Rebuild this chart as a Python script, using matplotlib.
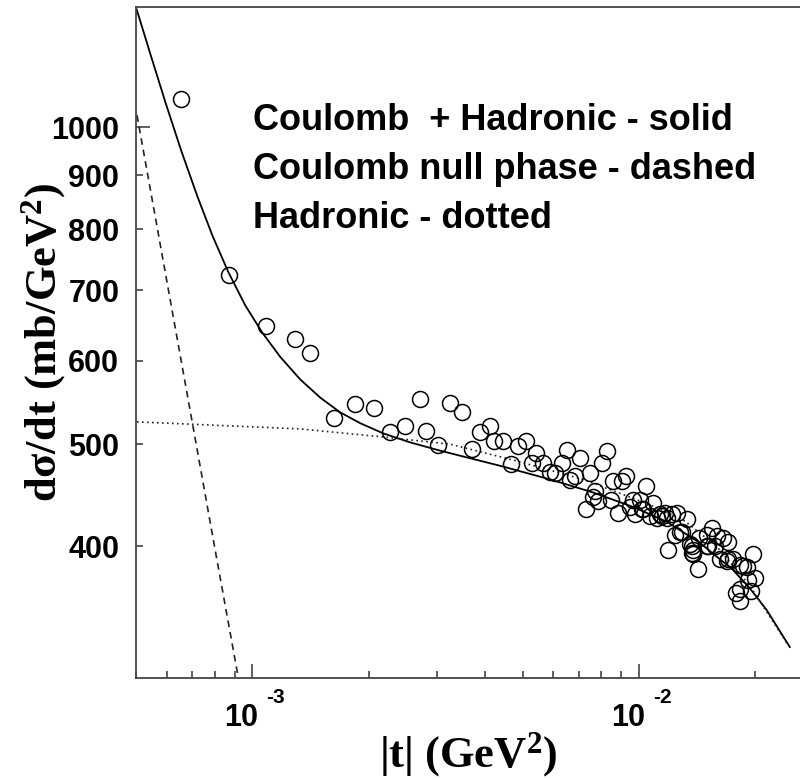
import matplotlib
matplotlib.use("Agg")
import matplotlib.pyplot as plt
from matplotlib.ticker import NullFormatter, NullLocator

plt.rcParams['mathtext.default'] = 'regular'

# ---- data ----
# measured points: |t| (GeV^2), dsigma/dt (mb/GeV^2)
t_data = [6.52e-4, 8.68e-4, 1.085e-3, 1.29e-3, 1.406e-3, 1.622e-3, 1.845e-3, 2.066e-3,
          2.273e-3, 2.485e-3, 2.717e-3, 2.817e-3, 3.03e-3, 3.25e-3, 3.48e-3, 3.70e-3,
          3.88e-3, 4.12e-3, 4.23e-3, 4.46e-3, 4.66e-3, 4.88e-3, 5.11e-3, 5.42e-3,
          5.28e-3, 5.66e-3, 5.87e-3, 6.07e-3, 6.31e-3, 6.51e-3, 7.04e-3, 6.63e-3,
          6.83e-3, 7.47e-3, 8.01e-3, 8.25e-3, 8.58e-3, 9.02e-3, 9.26e-3, 7.70e-3,
          7.59e-3, 7.85e-3, 7.29e-3, 8.45e-3, 8.84e-3, 9.67e-3, 1.006e-2, 1.043e-2,
          9.48e-3, 1.016e-2, 9.77e-3, 1.089e-2, 1.068e-2, 1.111e-2, 1.145e-2, 1.179e-2,
          1.167e-2, 1.215e-2, 1.252e-2, 1.329e-2, 1.29e-2, 1.239e-2, 1.19e-2, 1.355e-2,
          1.382e-2, 1.423e-2, 1.432e-2, 1.496e-2, 1.541e-2, 1.588e-2, 1.651e-2, 1.701e-2,
          1.511e-2, 1.572e-2, 1.619e-2, 1.701e-2, 1.752e-2, 1.824e-2, 1.974e-2, 1.898e-2,
          1.994e-2, 1.916e-2, 1.824e-2, 1.955e-2, 1.824e-2, 1.788e-2, 1.382e-2, 1.37e-2,
          1.026e-2, 1.276e-2, 1.369e-2, 1.496e-2, 1.685e-2, 1.86e-2, 1.133e-2]
y_data = [1062, 724, 648, 629, 610, 529, 546, 541,
          514, 520, 552, 515, 499, 547, 536, 495,
          514, 520, 504, 504, 479, 498, 504, 490,
          480, 480, 471, 470, 480, 494, 485, 462,
          466, 470, 480, 493, 461, 461, 466, 451,
          446, 442, 434, 443, 430, 443, 443, 456,
          436, 434, 429, 440, 427, 426, 427, 426,
          430, 429, 430, 425, 413, 410, 397, 402,
          397, 381, 407, 410, 416, 409, 407, 404,
          400, 400, 389, 389, 389, 384, 393, 382,
          373, 372, 364, 363, 355, 361, 393, 400,
          434, 413, 394, 400, 387, 383, 429]

# Coulomb + Hadronic (solid)
t_solid = [5.01e-4, 5.45e-4, 5.96e-4, 6.55e-4, 7.21e-4, 7.88e-4, 8.67e-4, 9.59e-4,
           1.061e-3, 1.181e-3, 1.33e-3, 1.499e-3, 1.688e-3, 1.901e-3, 2.18e-3, 2.56e-3,
           3.06e-3, 4.37e-3, 5.89e-3, 7.60e-3, 9.65e-3, 1.181e-2, 1.438e-2, 1.75e-2,
           1.936e-2, 2.14e-2, 2.456e-2]
y_solid = [1296, 1172, 1055, 949, 859, 789, 728, 677,
           638, 605, 576, 553.5, 536, 523.5, 512, 502,
           493, 477, 463, 450, 436, 422, 403, 380,
           365, 348, 321]

# Coulomb null phase (dashed)
t_dash = [5.03e-4, 6.0e-4, 7.0e-4, 8.0e-4, 9.2e-4, 9.3e-4]
y_dash = [1026, 716, 523, 398, 300, 293]

# Hadronic (dotted)
t_dot = [5.03e-4, 1.33e-3, 2.18e-3, 3.25e-3, 4.83e-3, 7.17e-3, 1.068e-2, 1.30e-2,
         1.588e-2, 1.936e-2, 2.41e-2]
y_dot = [525, 517, 508, 500, 482, 463, 438, 424, 400, 367, 324]

y_ticks = [400, 500, 600, 700, 800, 900, 1000]
x_decades = [1e-3, 1e-2]
x_exp_labels = ['-3', '-2']
legend_lines = ['Coulomb  + Hadronic - solid',
                'Coulomb null phase - dashed',
                'Hadronic - dotted']

# ---- figure ----
fig = plt.figure(figsize=(8, 7.8), dpi=100)
ax = fig.add_axes([0.17, 0.1308, 0.83, 0.8603])
ax.set_xscale('log')
ax.set_yscale('log')
ax.set_xlim(5.0e-4, 0.0261)
ax.set_ylim(300, 1300)

ax.plot(t_solid, y_solid, color='black', lw=1.3, solid_joinstyle='round')
ax.plot(t_dash, y_dash, color='#222222', lw=1.2, linestyle=(0, (4, 3)))
ax.plot(t_dot, y_dot, color='#222222', lw=1.2, linestyle=(0, (1, 2)))
ax.plot(t_data, y_data, linestyle='none', marker='o', markersize=11.5,
        markerfacecolor='none', markeredgecolor='black', markeredgewidth=1.1)

for side in ['left', 'bottom', 'top']:
    ax.spines[side].set_color('#444444')
    ax.spines[side].set_linewidth(1.3)
ax.spines['right'].set_visible(False)

# y ticks
ax.yaxis.set_major_locator(NullLocator())
ax.set_yticks([1000])
ax.set_yticklabels(['1000'])
ax.set_yticks([v for v in y_ticks if v != 1000], minor=True)
ax.set_yticklabels([str(v) for v in y_ticks if v != 1000], minor=True)
ax.tick_params(axis='y', which='major', direction='in', length=10, width=1.2,
               color='#444444', pad=12)
ax.tick_params(axis='y', which='minor', direction='in', length=5, width=1.2,
               color='#444444', pad=12)
for lab in ax.get_yticklabels(which='both'):
    lab.set_fontfamily('Liberation Sans')
    lab.set_fontweight('bold')
    lab.set_fontsize(22)

# x ticks
ax.tick_params(axis='x', which='major', direction='in', length=10, width=1.2,
               color='#444444', top=False)
ax.tick_params(axis='x', which='minor', direction='in', length=5, width=1.2,
               color='#444444', top=False)
ax.xaxis.set_major_formatter(NullFormatter())
ax.xaxis.set_minor_formatter(NullFormatter())
for xv, ex in zip(x_decades, x_exp_labels):
    ax.annotate('10', xy=(xv, 0), xycoords=('data', 'axes fraction'),
                xytext=(-8, -18), textcoords='offset points', ha='center', va='top',
                fontfamily='Liberation Sans', fontweight='bold', fontsize=22)
    ax.annotate(ex, xy=(xv, 0), xycoords=('data', 'axes fraction'),
                xytext=(10, -7), textcoords='offset points', ha='left', va='top',
                fontfamily='Liberation Sans', fontweight='bold', fontsize=15)

ax.set_xlabel('|t| (GeV$^2$)', fontfamily='Liberation Serif', fontweight='bold',
              fontsize=32, labelpad=34)
ax.set_ylabel('d\u03c3/dt (mb/GeV$^2$)', fontfamily='Liberation Serif',
              fontweight='bold', fontsize=32)
ax.yaxis.set_label_coords(-0.102, 0.5)

for i, line in enumerate(legend_lines):
    ax.text(0.176, 0.817 - i * 0.073, line, transform=ax.transAxes,
            ha='left', va='baseline', fontfamily='Liberation Sans',
            fontweight='bold', fontsize=26)

fig.savefig('out.png', dpi=100)
